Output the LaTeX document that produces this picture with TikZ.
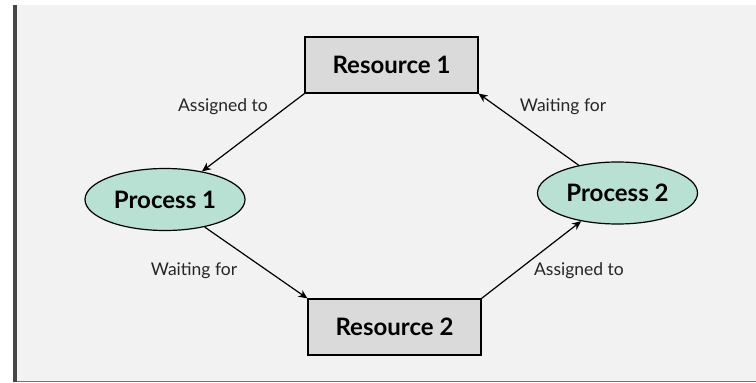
\documentclass[tikz,border=0pt]{standalone}
\usepackage{fontspec}
\setmainfont{Lato}
\usepackage{tikz}
\usetikzlibrary{arrows.meta,shapes.geometric}

\definecolor{panelgray}{RGB}{242,242,242}
\definecolor{boxgray}{RGB}{218,218,218}
\definecolor{procgreen}{RGB}{184,224,211}
\definecolor{barcolor}{RGB}{70,70,70}

\begin{document}
\begin{tikzpicture}[
    x=1pt, y=-1pt,
    font=\fontsize{17.5}{20}\selectfont,
    resource/.style={draw=black, fill=boxgray, line width=1.2pt,
                     minimum width=173pt, minimum height=56pt, inner sep=0pt,
                     font=\fontsize{24}{28}\selectfont\bfseries},
    process/.style={ellipse, draw=black, fill=procgreen, line width=1.2pt,
                    minimum width=160pt, minimum height=62pt, inner sep=0pt,
                    font=\fontsize{24}{28}\selectfont\bfseries},
    label/.style={text=black!85, inner sep=1pt},
    flowarrow/.style={-{Stealth[length=9pt,width=8pt]}, draw=black, line width=1.2pt}
]

% panel
\useasboundingbox (0,0) rectangle (756,383);
\fill[white] (0,0) rectangle (756,383);
\fill[panelgray] (17,5) rectangle (756,381);
\fill[barcolor] (13,5) rectangle (17,382);
\draw[black!55, line width=0.8pt] (17,381) -- (756,381);

\node[resource] (res1) at (391.5,65) {Resource 1};
\node[resource] (res2) at (394.5,327) {Resource 2};
\node[process] (proc1) at (165,199.5) {Process 1};
\node[process] (proc2) at (617.5,193) {Process 2};

\draw[flowarrow] (res1.south west) -- (proc1);
\draw[flowarrow] (proc1) -- (res2.north west);
\draw[flowarrow] (res2.north east) -- (proc2);
\draw[flowarrow] (proc2) -- (res1.south east);

\node[label] (lassign1) at (223,107) {Assigned to};
\node[label] (lwait1) at (563,107) {Waiting for};
\node[label] (lwait2) at (194,271) {Waiting for};
\node[label] (lassign2) at (579,271) {Assigned to};

\end{tikzpicture}
\end{document}
